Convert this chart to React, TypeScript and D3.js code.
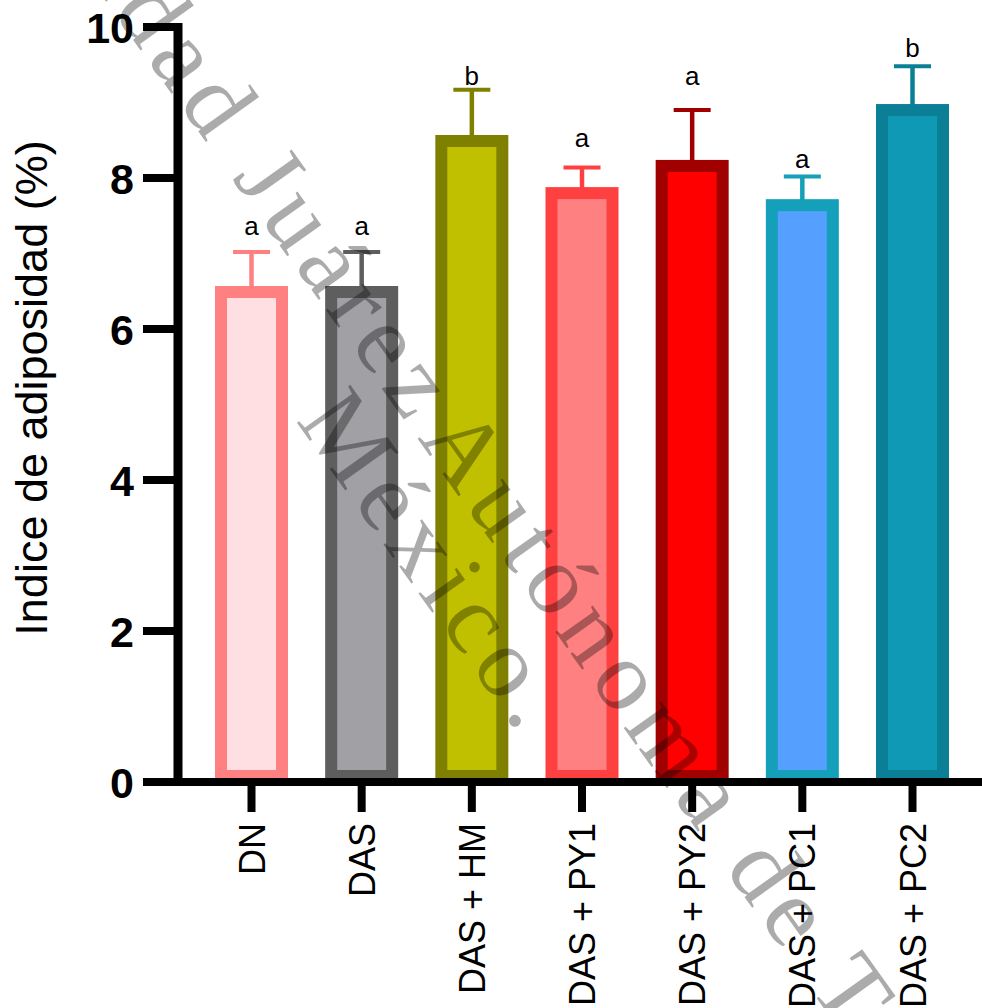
import { select, scaleLinear, scalePoint } from "d3";
import { useEffect, useRef } from "react";

const GROUPS = ["DN", "DAS", "DAS + HM", "DAS + PY1", "DAS + PY2", "DAS + PC1", "DAS + PC2"];
const MEANS = [6.49, 6.49, 8.49, 7.8, 8.16, 7.64, 8.9];
const ERRORS = [0.53, 0.53, 0.68, 0.34, 0.74, 0.38, 0.58];
const LETTERS = ["a", "a", "b", "a", "a", "a", "b"];
const LETTER_LEVELS = [7.25, 7.25, 9.23, 8.41, 9.23, 8.13, 9.6];
const Y_TICKS = [0, 2, 4, 6, 8, 10];

const BORDER_COLORS = ["#ff8080", "#5e5e5e", "#808000", "#ff4040", "#a00000", "#14a0b8", "#0a7f96"];
const FILL_COLORS = ["#ffdfe1", "#a0a0a5", "#c0c000", "#ff8080", "#ff0000", "#55a0ff", "#1099b4"];

const WIDTH = 982;
const HEIGHT = 1008;
const SANS = "'Liberation Sans', Arial, sans-serif";

export default function App() {
  const svgRef = useRef<SVGSVGElement | null>(null);

  useEffect(() => {
    const svg = svgRef.current;
    if (!svg) {
      return;
    }
    document.body.style.margin = "0";
    select(svg).selectAll("*").remove();

    const root = select(svg).attr("width", WIDTH).attr("height", HEIGHT);

    const x = scalePoint<string>().domain(GROUPS).range([251.5, 912.5]);
    const y = scaleLinear().domain([0, 10]).range([782, 27]);
    const barW = 73;
    const border = 12;
    const capW = 37;

    const bars = root
      .selectAll("g.bar")
      .data(GROUPS)
      .enter()
      .append("g")
      .attr("class", "bar");

    // error bars sit behind the bar top
    bars
      .append("line")
      .attr("x1", (d) => x(d)!)
      .attr("x2", (d) => x(d)!)
      .attr("y1", (_, i) => y(MEANS[i]))
      .attr("y2", (_, i) => y(MEANS[i] + ERRORS[i]))
      .attr("stroke", (_, i) => BORDER_COLORS[i])
      .attr("stroke-width", 4.5);
    bars
      .append("line")
      .attr("x1", (d) => x(d)! - capW / 2)
      .attr("x2", (d) => x(d)! + capW / 2)
      .attr("y1", (_, i) => y(MEANS[i] + ERRORS[i]))
      .attr("y2", (_, i) => y(MEANS[i] + ERRORS[i]))
      .attr("stroke", (_, i) => BORDER_COLORS[i])
      .attr("stroke-width", 4);

    bars
      .append("rect")
      .attr("x", (d) => x(d)! - barW / 2 + border / 2)
      .attr("y", (_, i) => y(MEANS[i]))
      .attr("width", barW - border)
      .attr("height", (_, i) => y(0) - y(MEANS[i]) - border / 2)
      .attr("fill", (_, i) => FILL_COLORS[i])
      .attr("stroke", (_, i) => BORDER_COLORS[i])
      .attr("stroke-width", border);

    bars
      .append("text")
      .attr("x", (d) => x(d)!)
      .attr("y", (_, i) => y(LETTER_LEVELS[i]))
      .attr("text-anchor", "middle")
      .attr("font-family", SANS)
      .attr("font-size", 26)
      .attr("fill", "#000")
      .text((_, i) => LETTERS[i]);

    // axes
    const axisX = 178;
    root
      .append("line")
      .attr("x1", axisX)
      .attr("x2", axisX)
      .attr("y1", y(10) - 4)
      .attr("y2", y(0))
      .attr("stroke", "#000")
      .attr("stroke-width", 9);

    const yt = root.selectAll("g.ytick").data(Y_TICKS).enter().append("g").attr("class", "ytick");
    yt.append("line")
      .attr("x1", 143)
      .attr("x2", axisX)
      .attr("y1", (d) => y(d))
      .attr("y2", (d) => y(d))
      .attr("stroke", "#000")
      .attr("stroke-width", 8);
    yt.append("text")
      .attr("x", 134)
      .attr("y", (d) => y(d) + 15.5)
      .attr("text-anchor", "end")
      .attr("font-family", SANS)
      .attr("font-weight", "bold")
      .attr("font-size", 43)
      .attr("fill", "#000")
      .text((d) => String(d));

    root
      .append("line")
      .attr("x1", 143)
      .attr("x2", WIDTH)
      .attr("y1", y(0))
      .attr("y2", y(0))
      .attr("stroke", "#000")
      .attr("stroke-width", 8);

    const xt = root.selectAll("g.xtick").data(GROUPS).enter().append("g").attr("class", "xtick");
    xt.append("line")
      .attr("x1", (d) => x(d)!)
      .attr("x2", (d) => x(d)!)
      .attr("y1", y(0))
      .attr("y2", 812)
      .attr("stroke", "#000")
      .attr("stroke-width", 8);
    xt.append("text")
      .attr("transform", (d) => `translate(${x(d)! + 13},823) rotate(-90)`)
      .attr("text-anchor", "end")
      .attr("font-family", SANS)
      .attr("font-size", 36)
      .attr("fill", "#000")
      .text((d) => d);

    root
      .append("text")
      .attr("transform", `translate(47,388) rotate(-90)`)
      .attr("text-anchor", "middle")
      .attr("font-family", SANS)
      .attr("font-size", 45)
      .attr("fill", "#000")
      .text("Indice de adiposidad (%)");

    // watermark, anchored at the start of "Autónoma"
    const wm = root
      .append("g")
      .attr("transform", "translate(417,438) rotate(54.5)")
      .attr("font-family", "'Liberation Serif', 'Times New Roman', serif")
      .attr("font-size", 100)
      .attr("letter-spacing", 9)
      .attr("fill", "#000")
      .attr("fill-opacity", 0.33);
    wm.append("text").attr("x", 24).attr("y", 0).attr("text-anchor", "end").text("Universidad Juárez\u00a0");
    wm.append("text").attr("x", 0).attr("y", 0).text("Autónoma de Tabasco.");
    wm.append("text").attr("x", -85).attr("y", 89).text("México.");
  }, []);

  return <svg ref={svgRef} style={{ display: "block" }} />;
}
